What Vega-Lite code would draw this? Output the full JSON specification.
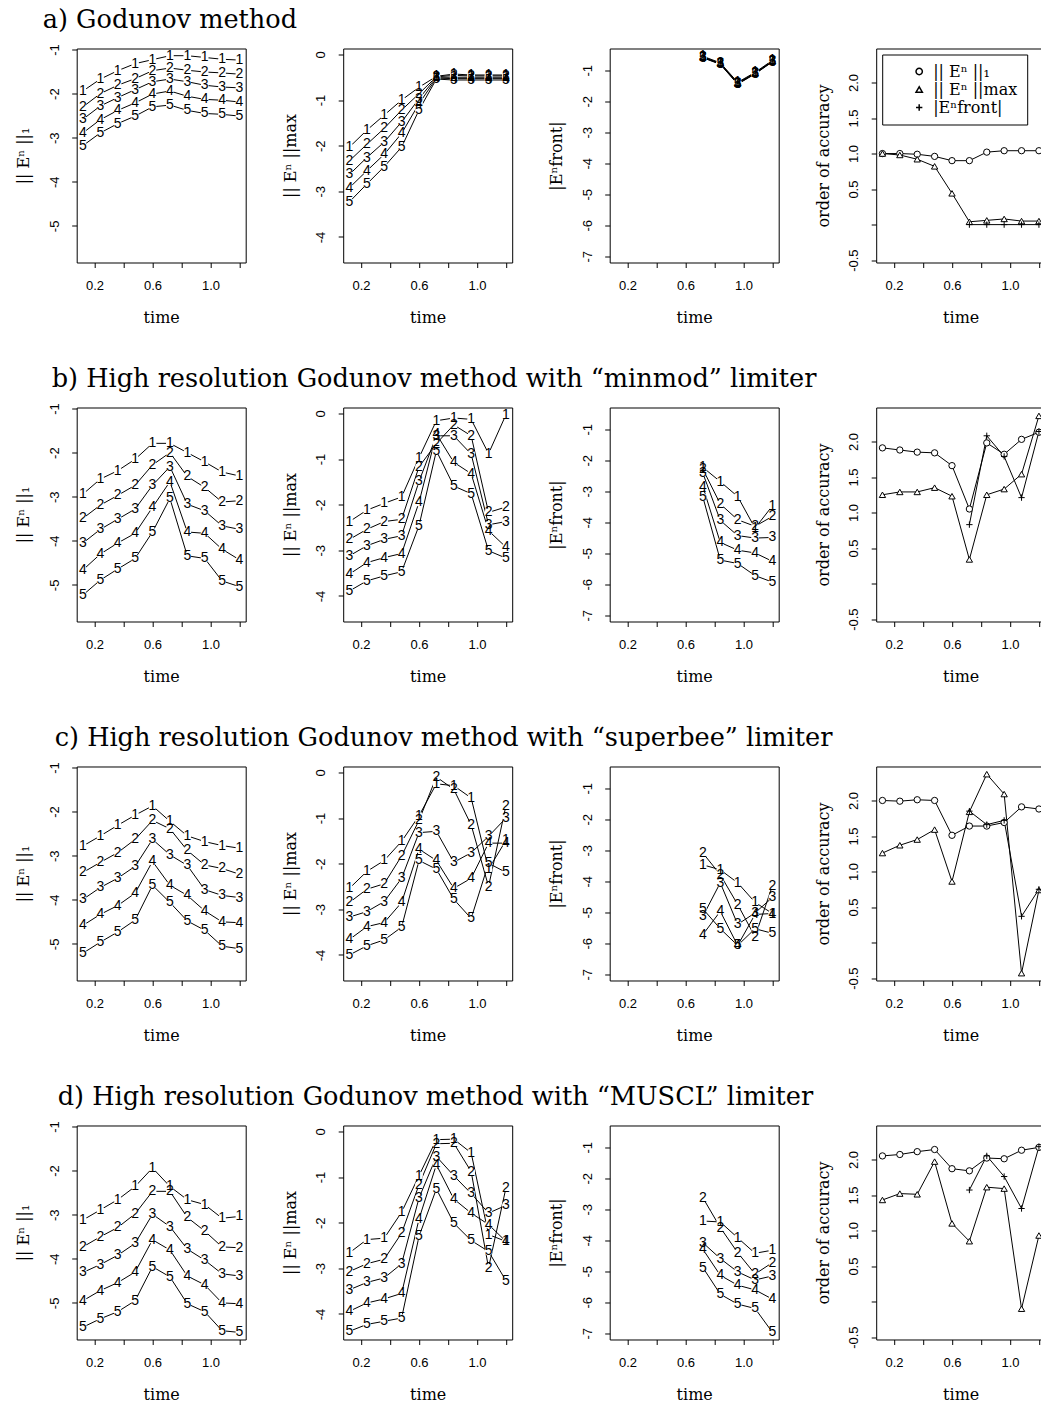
{
"$schema":"https://vega.github.io/schema/vega-lite/v6.json",
"background":"white",
"autosize":{"type":"pad"},
"padding":{"left":14.7,"top":6.5,"right":0,"bottom":0},
"bounds":"flush",
"spacing":359,
"data":{"name":"src","values":[
{"r":"a","c":1,"s":"1","t":[0.12,0.24,0.36,0.48,0.6,0.72,0.84,0.96,1.08,1.2],"v":[-1.94,-1.67,-1.48,-1.32,-1.23,-1.14,-1.14,-1.18,-1.22,-1.24]},
{"r":"a","c":1,"s":"2","t":[0.12,0.24,0.36,0.48,0.6,0.72,0.84,0.96,1.08,1.2],"v":[-2.30,-2.00,-1.81,-1.66,-1.48,-1.42,-1.47,-1.51,-1.53,-1.56]},
{"r":"a","c":1,"s":"3","t":[0.12,0.24,0.36,0.48,0.6,0.72,0.84,0.96,1.08,1.2],"v":[-2.58,-2.28,-2.09,-1.91,-1.73,-1.67,-1.73,-1.81,-1.85,-1.87]},
{"r":"a","c":1,"s":"4","t":[0.12,0.24,0.36,0.48,0.6,0.72,0.84,0.96,1.08,1.2],"v":[-2.89,-2.59,-2.38,-2.21,-2.01,-1.94,-2.06,-2.13,-2.15,-2.19]},
{"r":"a","c":1,"s":"5","t":[0.12,0.24,0.36,0.48,0.6,0.72,0.84,0.96,1.08,1.2],"v":[-3.18,-2.89,-2.68,-2.51,-2.30,-2.26,-2.38,-2.45,-2.47,-2.51]},
{"r":"a","c":2,"s":"1","t":[0.12,0.24,0.36,0.48,0.6,0.72,0.84,0.96,1.08,1.2],"v":[-2.03,-1.66,-1.33,-1.00,-0.72,-0.48,-0.43,-0.45,-0.45,-0.45]},
{"r":"a","c":2,"s":"2","t":[0.12,0.24,0.36,0.48,0.6,0.72,0.84,0.96,1.08,1.2],"v":[-2.33,-1.97,-1.62,-1.22,-0.86,-0.49,-0.46,-0.47,-0.47,-0.47]},
{"r":"a","c":2,"s":"3","t":[0.12,0.24,0.36,0.48,0.6,0.72,0.84,0.96,1.08,1.2],"v":[-2.63,-2.26,-1.92,-1.48,-0.97,-0.50,-0.50,-0.50,-0.50,-0.50]},
{"r":"a","c":2,"s":"4","t":[0.12,0.24,0.36,0.48,0.6,0.72,0.84,0.96,1.08,1.2],"v":[-2.92,-2.55,-2.19,-1.73,-1.08,-0.52,-0.53,-0.53,-0.53,-0.53]},
{"r":"a","c":2,"s":"5","t":[0.12,0.24,0.36,0.48,0.6,0.72,0.84,0.96,1.08,1.2],"v":[-3.23,-2.84,-2.46,-2.03,-1.22,-0.54,-0.56,-0.56,-0.56,-0.56]},
{"r":"a","c":3,"s":"1","t":[0.72,0.84,0.96,1.08,1.2],"v":[-0.55,-0.76,-1.39,-1.07,-0.68]},
{"r":"a","c":3,"s":"2","t":[0.72,0.84,0.96,1.08,1.2],"v":[-0.57,-0.78,-1.41,-1.09,-0.70]},
{"r":"a","c":3,"s":"3","t":[0.72,0.84,0.96,1.08,1.2],"v":[-0.58,-0.79,-1.43,-1.10,-0.71]},
{"r":"a","c":3,"s":"4","t":[0.72,0.84,0.96,1.08,1.2],"v":[-0.59,-0.80,-1.44,-1.11,-0.72]},
{"r":"a","c":3,"s":"5","t":[0.72,0.84,0.96,1.08,1.2],"v":[-0.60,-0.81,-1.45,-1.12,-0.73]},
{"r":"a","c":4,"s":"|| Eⁿ ||₁","t":[0.12,0.24,0.36,0.48,0.6,0.72,0.84,0.96,1.08,1.2],"v":[1.00,1.00,0.99,0.96,0.90,0.90,1.02,1.04,1.04,1.04]},
{"r":"a","c":4,"s":"|| Eⁿ ||max","t":[0.12,0.24,0.36,0.48,0.6,0.72,0.84,0.96,1.08,1.2],"v":[1.00,0.98,0.92,0.82,0.44,0.04,0.06,0.08,0.05,0.05]},
{"r":"a","c":4,"s":"|Eⁿfront|","t":[0.72,0.84,0.96,1.08,1.2],"v":[0.0,0.0,0.0,0.0,0.0]},
{"r":"b","c":1,"s":"1","t":[0.12,0.24,0.36,0.48,0.6,0.72,0.84,0.96,1.08,1.2],"v":[-2.94,-2.60,-2.41,-2.15,-1.79,-1.79,-2.00,-2.21,-2.44,-2.53]},
{"r":"b","c":1,"s":"2","t":[0.12,0.24,0.36,0.48,0.6,0.72,0.84,0.96,1.08,1.2],"v":[-3.49,-3.19,-2.97,-2.74,-2.28,-2.00,-2.54,-2.79,-3.12,-3.09]},
{"r":"b","c":1,"s":"3","t":[0.12,0.24,0.36,0.48,0.6,0.72,0.84,0.96,1.08,1.2],"v":[-4.05,-3.74,-3.51,-3.28,-2.74,-2.32,-3.17,-3.32,-3.66,-3.74]},
{"r":"b","c":1,"s":"4","t":[0.12,0.24,0.36,0.48,0.6,0.72,0.84,0.96,1.08,1.2],"v":[-4.66,-4.30,-4.05,-3.83,-3.24,-2.66,-3.80,-3.83,-4.19,-4.43]},
{"r":"b","c":1,"s":"5","t":[0.12,0.24,0.36,0.48,0.6,0.72,0.84,0.96,1.08,1.2],"v":[-5.23,-4.89,-4.64,-4.40,-3.80,-3.04,-4.34,-4.40,-4.91,-5.04]},
{"r":"b","c":2,"s":"1","t":[0.12,0.24,0.36,0.48,0.6,0.72,0.84,0.96,1.08,1.2],"v":[-2.37,-2.12,-1.97,-1.83,-0.97,-0.16,-0.10,-0.13,-0.88,-0.03]},
{"r":"b","c":2,"s":"2","t":[0.12,0.24,0.36,0.48,0.6,0.72,0.84,0.96,1.08,1.2],"v":[-2.76,-2.54,-2.37,-2.32,-1.17,-0.66,-0.25,-0.49,-2.17,-2.05]},
{"r":"b","c":2,"s":"3","t":[0.12,0.24,0.36,0.48,0.6,0.72,0.84,0.96,1.08,1.2],"v":[-3.12,-2.90,-2.76,-2.68,-1.49,-0.49,-0.49,-0.89,-2.44,-2.37]},
{"r":"b","c":2,"s":"4","t":[0.12,0.24,0.36,0.48,0.6,0.72,0.84,0.96,1.08,1.2],"v":[-3.52,-3.27,-3.16,-3.07,-1.95,-0.45,-1.07,-1.32,-2.57,-2.93]},
{"r":"b","c":2,"s":"5","t":[0.12,0.24,0.36,0.48,0.6,0.72,0.84,0.96,1.08,1.2],"v":[-3.89,-3.67,-3.56,-3.47,-2.46,-0.82,-1.59,-1.76,-3.01,-3.17]},
{"r":"b","c":3,"s":"1","t":[0.72,0.84,0.96,1.08,1.2],"v":[-2.23,-2.69,-3.17,-4.19,-3.47]},
{"r":"b","c":3,"s":"2","t":[0.72,0.84,0.96,1.08,1.2],"v":[-2.29,-3.41,-3.92,-4.13,-3.81]},
{"r":"b","c":3,"s":"3","t":[0.72,0.84,0.96,1.08,1.2],"v":[-2.42,-3.94,-4.43,-4.51,-4.49]},
{"r":"b","c":3,"s":"4","t":[0.72,0.84,0.96,1.08,1.2],"v":[-2.85,-4.65,-4.90,-4.99,-5.26]},
{"r":"b","c":3,"s":"5","t":[0.72,0.84,0.96,1.08,1.2],"v":[-3.19,-5.22,-5.33,-5.72,-5.93]},
{"r":"b","c":4,"s":"|| Eⁿ ||₁","t":[0.12,0.24,0.36,0.48,0.6,0.72,0.84,0.96,1.08,1.2],"v":[1.91,1.88,1.85,1.84,1.66,1.05,1.98,1.82,2.03,2.13]},
{"r":"b","c":4,"s":"|| Eⁿ ||max","t":[0.12,0.24,0.36,0.48,0.6,0.72,0.84,0.96,1.08,1.2],"v":[1.25,1.29,1.29,1.35,1.23,0.34,1.25,1.33,1.54,2.36]},
{"r":"b","c":4,"s":"|Eⁿfront|","t":[0.72,0.84,0.96,1.08,1.2],"v":[0.83,2.08,1.79,1.21,2.14]},
{"r":"c","c":1,"s":"1","t":[0.12,0.24,0.36,0.48,0.6,0.72,0.84,0.96,1.08,1.2],"v":[-2.78,-2.55,-2.31,-2.08,-1.87,-2.22,-2.55,-2.68,-2.77,-2.83]},
{"r":"c","c":1,"s":"2","t":[0.12,0.24,0.36,0.48,0.6,0.72,0.84,0.96,1.08,1.2],"v":[-3.38,-3.15,-2.93,-2.63,-2.20,-2.39,-2.88,-3.21,-3.29,-3.42]},
{"r":"c","c":1,"s":"3","t":[0.12,0.24,0.36,0.48,0.6,0.72,0.84,0.96,1.08,1.2],"v":[-3.99,-3.72,-3.51,-3.24,-2.63,-2.98,-3.22,-3.77,-3.90,-3.95]},
{"r":"c","c":1,"s":"4","t":[0.12,0.24,0.36,0.48,0.6,0.72,0.84,0.96,1.08,1.2],"v":[-4.58,-4.33,-4.13,-3.85,-3.13,-3.67,-3.90,-4.25,-4.50,-4.52]},
{"r":"c","c":1,"s":"5","t":[0.12,0.24,0.36,0.48,0.6,0.72,0.84,0.96,1.08,1.2],"v":[-5.21,-4.96,-4.73,-4.46,-3.67,-4.06,-4.48,-4.69,-5.05,-5.11]},
{"r":"c","c":2,"s":"1","t":[0.12,0.24,0.36,0.48,0.6,0.72,0.84,0.96,1.08,1.2],"v":[-2.54,-2.17,-1.93,-1.51,-0.95,-0.25,-0.29,-0.56,-2.12,-1.49]},
{"r":"c","c":2,"s":"2","t":[0.12,0.24,0.36,0.48,0.6,0.72,0.84,0.96,1.08,1.2],"v":[-2.85,-2.56,-2.44,-1.83,-1.05,-0.10,-0.37,-1.15,-2.50,-0.73]},
{"r":"c","c":2,"s":"3","t":[0.12,0.24,0.36,0.48,0.6,0.72,0.84,0.96,1.08,1.2],"v":[-3.17,-3.05,-2.83,-2.32,-1.32,-1.29,-1.97,-1.76,-1.40,-1.00]},
{"r":"c","c":2,"s":"4","t":[0.12,0.24,0.36,0.48,0.6,0.72,0.84,0.96,1.08,1.2],"v":[-3.66,-3.38,-3.29,-2.85,-1.68,-1.93,-2.54,-2.32,-1.55,-1.55]},
{"r":"c","c":2,"s":"5","t":[0.12,0.24,0.36,0.48,0.6,0.72,0.84,0.96,1.08,1.2],"v":[-4.00,-3.80,-3.67,-3.39,-1.93,-2.12,-2.78,-3.20,-1.99,-2.19]},
{"r":"c","c":3,"s":"1","t":[0.72,0.84,0.96,1.08,1.2],"v":[-3.47,-3.63,-4.05,-4.68,-5.04]},
{"r":"c","c":3,"s":"2","t":[0.72,0.84,0.96,1.08,1.2],"v":[-3.09,-3.79,-4.75,-5.79,-4.14]},
{"r":"c","c":3,"s":"3","t":[0.72,0.84,0.96,1.08,1.2],"v":[-5.13,-4.05,-5.39,-5.02,-4.52]},
{"r":"c","c":3,"s":"4","t":[0.72,0.84,0.96,1.08,1.2],"v":[-5.72,-4.97,-6.07,-5.07,-5.04]},
{"r":"c","c":3,"s":"5","t":[0.72,0.84,0.96,1.08,1.2],"v":[-4.89,-5.53,-6.07,-5.53,-5.68]},
{"r":"c","c":4,"s":"|| Eⁿ ||₁","t":[0.12,0.24,0.36,0.48,0.6,0.72,0.84,0.96,1.08,1.2],"v":[2.00,1.99,2.01,2.00,1.51,1.64,1.64,1.69,1.91,1.88]},
{"r":"c","c":4,"s":"|| Eⁿ ||max","t":[0.12,0.24,0.36,0.48,0.6,0.72,0.84,0.96,1.08,1.2],"v":[1.26,1.37,1.45,1.59,0.86,1.84,2.37,2.09,-0.43,0.74]},
{"r":"c","c":4,"s":"|Eⁿfront|","t":[0.72,0.84,0.96,1.08,1.2],"v":[1.85,1.66,1.72,0.37,0.75]},
{"r":"d","c":1,"s":"1","t":[0.12,0.24,0.36,0.48,0.6,0.72,0.84,0.96,1.08,1.2],"v":[-3.12,-2.89,-2.66,-2.36,-1.94,-2.36,-2.66,-2.77,-3.08,-3.04]},
{"r":"d","c":1,"s":"2","t":[0.12,0.24,0.36,0.48,0.6,0.72,0.84,0.96,1.08,1.2],"v":[-3.73,-3.50,-3.29,-2.98,-2.47,-2.47,-3.06,-3.37,-3.73,-3.75]},
{"r":"d","c":1,"s":"3","t":[0.12,0.24,0.36,0.48,0.6,0.72,0.84,0.96,1.08,1.2],"v":[-4.31,-4.13,-3.92,-3.65,-2.99,-3.27,-3.78,-4.03,-4.34,-4.39]},
{"r":"d","c":1,"s":"4","t":[0.12,0.24,0.36,0.48,0.6,0.72,0.84,0.96,1.08,1.2],"v":[-4.95,-4.72,-4.54,-4.30,-3.57,-3.80,-4.39,-4.59,-5.00,-5.02]},
{"r":"d","c":1,"s":"5","t":[0.12,0.24,0.36,0.48,0.6,0.72,0.84,0.96,1.08,1.2],"v":[-5.55,-5.36,-5.20,-4.95,-4.18,-4.41,-5.02,-5.20,-5.63,-5.67]},
{"r":"d","c":2,"s":"1","t":[0.12,0.24,0.36,0.48,0.6,0.72,0.84,0.96,1.08,1.2],"v":[-2.66,-2.37,-2.34,-1.77,-0.97,-0.18,-0.17,-0.47,-2.26,-2.41]},
{"r":"d","c":2,"s":"2","t":[0.12,0.24,0.36,0.48,0.6,0.72,0.84,0.96,1.08,1.2],"v":[-3.07,-2.90,-2.80,-2.23,-1.17,-0.27,-0.26,-0.88,-2.99,-1.24]},
{"r":"d","c":2,"s":"3","t":[0.12,0.24,0.36,0.48,0.6,0.72,0.84,0.96,1.08,1.2],"v":[-3.47,-3.31,-3.21,-2.90,-1.46,-0.55,-0.97,-1.36,-1.79,-1.62]},
{"r":"d","c":2,"s":"4","t":[0.12,0.24,0.36,0.48,0.6,0.72,0.84,0.96,1.08,1.2],"v":[-3.94,-3.76,-3.67,-3.55,-1.92,-0.73,-1.48,-1.79,-2.04,-2.41]},
{"r":"d","c":2,"s":"5","t":[0.12,0.24,0.36,0.48,0.6,0.72,0.84,0.96,1.08,1.2],"v":[-4.38,-4.23,-4.16,-4.09,-2.30,-1.26,-2.01,-2.39,-2.63,-3.27]},
{"r":"d","c":3,"s":"1","t":[0.72,0.84,0.96,1.08,1.2],"v":[-3.38,-3.41,-3.92,-4.42,-4.32]},
{"r":"d","c":3,"s":"2","t":[0.72,0.84,0.96,1.08,1.2],"v":[-2.63,-3.59,-4.40,-5.09,-4.72]},
{"r":"d","c":3,"s":"3","t":[0.72,0.84,0.96,1.08,1.2],"v":[-4.08,-4.59,-5.02,-5.28,-5.15]},
{"r":"d","c":3,"s":"4","t":[0.72,0.84,0.96,1.08,1.2],"v":[-4.29,-5.13,-5.45,-5.60,-5.90]},
{"r":"d","c":3,"s":"5","t":[0.72,0.84,0.96,1.08,1.2],"v":[-4.88,-5.74,-6.06,-6.20,-6.97]},
{"r":"d","c":4,"s":"|| Eⁿ ||₁","t":[0.12,0.24,0.36,0.48,0.6,0.72,0.84,0.96,1.08,1.2],"v":[2.05,2.07,2.11,2.14,1.87,1.84,2.02,2.01,2.13,2.17]},
{"r":"d","c":4,"s":"|| Eⁿ ||max","t":[0.12,0.24,0.36,0.48,0.6,0.72,0.84,0.96,1.08,1.2],"v":[1.43,1.52,1.51,1.97,1.10,0.85,1.61,1.59,-0.10,0.93]},
{"r":"d","c":4,"s":"|Eⁿfront|","t":[0.72,0.84,0.96,1.08,1.2],"v":[1.57,2.05,1.76,1.31,2.18]}
]},
"transform":[{"flatten":["t","v"]}],
"resolve":{"scale":{"shape":"independent"},"legend":{"shape":"independent"}},
"config":{
 "view":{"stroke":"black","strokeWidth":1,"fill":"white"},
 "axis":{"domain":false,"grid":false,"ticks":true,"tickColor":"black","tickSize":5,"tickWidth":1,"labelFont":"Liberation Sans","labelFontSize":13,"labelColor":"black","labelOverlap":false,"labelFlush":false,"labelBound":false,"titleFont":"DejaVu Serif","titleFontSize":16,"titleFontWeight":"normal","titleColor":"black"},
 "axisX":{"labelPadding":12,"labelBaseline":"top","labelAlign":"center","titleY":60,"titleBaseline":"alphabetic"},
 "axisY":{"labelAngle":-90,"labelAlign":"center","labelBaseline":"alphabetic","labelPadding":13.5,"titleX":-53,"titleBaseline":"middle","titleAngle":-90,"titleAlign":"center"},
 "title":{"anchor":"start","frame":"group","baseline":"alphabetic","offset":10.5,"font":"DejaVu Serif","fontSize":25.6,"fontWeight":"normal","color":"black"}
},
"vconcat":[
{"bounds":"flush","spacing":97.5,"resolve":{"scale":{"shape":"independent"},"legend":{"shape":"independent"}},"hconcat":[
 {"width":169,"height":214,"title":{"text":"a) Godunov method","dx":-34},
  "transform":[{"filter":"datum.r=='a'&&datum.c==1"}],
  "encoding":{"x":{"field":"t","type":"quantitative","scale":{"domain":[0.0768,1.2432],"nice":false,"zero":false},"axis":{"values":[0.2,0.4,0.6,0.8,1.0,1.2],"labelExpr":"(datum.value==0.2||datum.value==0.6||datum.value==1)?format(datum.value,'.1f'):''","title":"time"}},
   "y":{"field":"v","type":"quantitative","scale":{"domain":[-5.83,-0.977],"nice":false,"zero":false},"axis":{"values":[-5,-4,-3,-2,-1],"labelExpr":"toString(datum.value)","title":"|| Eⁿ ||₁"}}},
  "layer":[{"mark":{"type":"line","color":"black","strokeWidth":1},"encoding":{"detail":{"field":"s"}}},
   {"mark":{"type":"point","filled":true,"color":"white","opacity":1,"size":60}},
   {"mark":{"type":"text","font":"Liberation Sans","fontSize":14,"color":"black"},"encoding":{"text":{"field":"s"}}}]},
 {"width":169,"height":214,
  "transform":[{"filter":"datum.r=='a'&&datum.c==2"}],
  "encoding":{"x":{"field":"t","type":"quantitative","scale":{"domain":[0.0768,1.2432],"nice":false,"zero":false},"axis":{"values":[0.2,0.4,0.6,0.8,1.0,1.2],"labelExpr":"(datum.value==0.2||datum.value==0.6||datum.value==1)?format(datum.value,'.1f'):''","title":"time"}},
   "y":{"field":"v","type":"quantitative","scale":{"domain":[-4.56,0.13],"nice":false,"zero":false},"axis":{"values":[-4,-3,-2,-1,0],"labelExpr":"toString(datum.value)","title":"|| Eⁿ ||max"}}},
  "layer":[{"mark":{"type":"line","color":"black","strokeWidth":1},"encoding":{"detail":{"field":"s"}}},
   {"mark":{"type":"point","filled":true,"color":"white","opacity":1,"size":60}},
   {"mark":{"type":"text","font":"Liberation Sans","fontSize":14,"color":"black"},"encoding":{"text":{"field":"s"}}}]},
 {"width":169,"height":214,
  "transform":[{"filter":"datum.r=='a'&&datum.c==3"}],
  "encoding":{"x":{"field":"t","type":"quantitative","scale":{"domain":[0.0768,1.2432],"nice":false,"zero":false},"axis":{"values":[0.2,0.4,0.6,0.8,1.0,1.2],"labelExpr":"(datum.value==0.2||datum.value==0.6||datum.value==1)?format(datum.value,'.1f'):''","title":"time"}},
   "y":{"field":"v","type":"quantitative","scale":{"domain":[-7.2,-0.3],"nice":false,"zero":false},"axis":{"values":[-7,-6,-5,-4,-3,-2,-1],"labelExpr":"toString(datum.value)","title":"|Eⁿfront|"}}},
  "layer":[{"mark":{"type":"line","color":"black","strokeWidth":1},"encoding":{"detail":{"field":"s"}}},
   {"mark":{"type":"point","filled":true,"color":"white","opacity":1,"size":60}},
   {"mark":{"type":"text","font":"Liberation Sans","fontSize":14,"color":"black"},"encoding":{"text":{"field":"s"}}}]},
 {"width":169,"height":214,
  "transform":[{"filter":"datum.r=='a'&&datum.c==4"}],
  "encoding":{"x":{"field":"t","type":"quantitative","scale":{"domain":[0.0768,1.2432],"nice":false,"zero":false},"axis":{"values":[0.2,0.4,0.6,0.8,1.0,1.2],"labelExpr":"(datum.value==0.2||datum.value==0.6||datum.value==1)?format(datum.value,'.1f'):''","title":"time"}},
   "y":{"field":"v","type":"quantitative","scale":{"domain":[-0.533,2.478],"nice":false,"zero":false},"axis":{"values":[-0.5,0,0.5,1,1.5,2],"labelExpr":"datum.value==0?'':(datum.value<0?'-':'')+format(abs(datum.value),'.1f')","title":"order of accuracy"}}},
  "layer":[{"mark":{"type":"line","color":"black","strokeWidth":1},"encoding":{"detail":{"field":"s"}}},
   {"mark":{"type":"point","filled":true,"fill":"white","stroke":"black","strokeWidth":1,"opacity":1,"size":40},
    "encoding":{"shape":{"field":"s","type":"nominal","scale":{"domain":["|| Eⁿ ||₁","|| Eⁿ ||max","|Eⁿfront|"],"range":["circle","triangle-up","M-1,0H1M0,-1V1"]},
     "legend":{"orient":"top-left","offset":6,"title":null,"padding":9,"strokeColor":"black","fillColor":"white","cornerRadius":0,"labelFont":"DejaVu Serif","labelFontSize":16,"labelColor":"black","symbolOffset":20,"symbolSize":40,"labelOffset":6,"rowPadding":2,
      "encode":{"symbols":{"update":{"stroke":{"value":"black"},"fill":{"value":"white"},"strokeWidth":{"value":1},"opacity":{"value":1}}}}}}}}]}
]},
{"bounds":"flush","spacing":97.5,"resolve":{"scale":{"shape":"independent"},"legend":{"shape":"independent"}},"hconcat":[
 {"width":169,"height":214,"title":{"text":"b) High resolution Godunov method with “minmod” limiter","dx":-25},
  "transform":[{"filter":"datum.r=='b'&&datum.c==1"}],
  "encoding":{"x":{"field":"t","type":"quantitative","scale":{"domain":[0.0768,1.2432],"nice":false,"zero":false},"axis":{"values":[0.2,0.4,0.6,0.8,1.0,1.2],"labelExpr":"(datum.value==0.2||datum.value==0.6||datum.value==1)?format(datum.value,'.1f'):''","title":"time"}},
   "y":{"field":"v","type":"quantitative","scale":{"domain":[-5.83,-0.977],"nice":false,"zero":false},"axis":{"values":[-5,-4,-3,-2,-1],"labelExpr":"toString(datum.value)","title":"|| Eⁿ ||₁"}}},
  "layer":[{"mark":{"type":"line","color":"black","strokeWidth":1},"encoding":{"detail":{"field":"s"}}},
   {"mark":{"type":"point","filled":true,"color":"white","opacity":1,"size":60}},
   {"mark":{"type":"text","font":"Liberation Sans","fontSize":14,"color":"black"},"encoding":{"text":{"field":"s"}}}]},
 {"width":169,"height":214,
  "transform":[{"filter":"datum.r=='b'&&datum.c==2"}],
  "encoding":{"x":{"field":"t","type":"quantitative","scale":{"domain":[0.0768,1.2432],"nice":false,"zero":false},"axis":{"values":[0.2,0.4,0.6,0.8,1.0,1.2],"labelExpr":"(datum.value==0.2||datum.value==0.6||datum.value==1)?format(datum.value,'.1f'):''","title":"time"}},
   "y":{"field":"v","type":"quantitative","scale":{"domain":[-4.56,0.13],"nice":false,"zero":false},"axis":{"values":[-4,-3,-2,-1,0],"labelExpr":"toString(datum.value)","title":"|| Eⁿ ||max"}}},
  "layer":[{"mark":{"type":"line","color":"black","strokeWidth":1},"encoding":{"detail":{"field":"s"}}},
   {"mark":{"type":"point","filled":true,"color":"white","opacity":1,"size":60}},
   {"mark":{"type":"text","font":"Liberation Sans","fontSize":14,"color":"black"},"encoding":{"text":{"field":"s"}}}]},
 {"width":169,"height":214,
  "transform":[{"filter":"datum.r=='b'&&datum.c==3"}],
  "encoding":{"x":{"field":"t","type":"quantitative","scale":{"domain":[0.0768,1.2432],"nice":false,"zero":false},"axis":{"values":[0.2,0.4,0.6,0.8,1.0,1.2],"labelExpr":"(datum.value==0.2||datum.value==0.6||datum.value==1)?format(datum.value,'.1f'):''","title":"time"}},
   "y":{"field":"v","type":"quantitative","scale":{"domain":[-7.2,-0.3],"nice":false,"zero":false},"axis":{"values":[-7,-6,-5,-4,-3,-2,-1],"labelExpr":"toString(datum.value)","title":"|Eⁿfront|"}}},
  "layer":[{"mark":{"type":"line","color":"black","strokeWidth":1},"encoding":{"detail":{"field":"s"}}},
   {"mark":{"type":"point","filled":true,"color":"white","opacity":1,"size":60}},
   {"mark":{"type":"text","font":"Liberation Sans","fontSize":14,"color":"black"},"encoding":{"text":{"field":"s"}}}]},
 {"width":169,"height":214,
  "transform":[{"filter":"datum.r=='b'&&datum.c==4"}],
  "encoding":{"x":{"field":"t","type":"quantitative","scale":{"domain":[0.0768,1.2432],"nice":false,"zero":false},"axis":{"values":[0.2,0.4,0.6,0.8,1.0,1.2],"labelExpr":"(datum.value==0.2||datum.value==0.6||datum.value==1)?format(datum.value,'.1f'):''","title":"time"}},
   "y":{"field":"v","type":"quantitative","scale":{"domain":[-0.533,2.478],"nice":false,"zero":false},"axis":{"values":[-0.5,0,0.5,1,1.5,2],"labelExpr":"datum.value==0?'':(datum.value<0?'-':'')+format(abs(datum.value),'.1f')","title":"order of accuracy"}}},
  "layer":[{"mark":{"type":"line","color":"black","strokeWidth":1},"encoding":{"detail":{"field":"s"}}},
   {"mark":{"type":"point","filled":true,"fill":"white","stroke":"black","strokeWidth":1,"opacity":1,"size":40},
    "encoding":{"shape":{"field":"s","type":"nominal","scale":{"domain":["|| Eⁿ ||₁","|| Eⁿ ||max","|Eⁿfront|"],"range":["circle","triangle-up","M-1,0H1M0,-1V1"]},"legend":null}}}]}
]},
{"bounds":"flush","spacing":97.5,"resolve":{"scale":{"shape":"independent"},"legend":{"shape":"independent"}},"hconcat":[
 {"width":169,"height":214,"title":{"text":"c) High resolution Godunov method with “superbee” limiter","dx":-22},
  "transform":[{"filter":"datum.r=='c'&&datum.c==1"}],
  "encoding":{"x":{"field":"t","type":"quantitative","scale":{"domain":[0.0768,1.2432],"nice":false,"zero":false},"axis":{"values":[0.2,0.4,0.6,0.8,1.0,1.2],"labelExpr":"(datum.value==0.2||datum.value==0.6||datum.value==1)?format(datum.value,'.1f'):''","title":"time"}},
   "y":{"field":"v","type":"quantitative","scale":{"domain":[-5.83,-0.977],"nice":false,"zero":false},"axis":{"values":[-5,-4,-3,-2,-1],"labelExpr":"toString(datum.value)","title":"|| Eⁿ ||₁"}}},
  "layer":[{"mark":{"type":"line","color":"black","strokeWidth":1},"encoding":{"detail":{"field":"s"}}},
   {"mark":{"type":"point","filled":true,"color":"white","opacity":1,"size":60}},
   {"mark":{"type":"text","font":"Liberation Sans","fontSize":14,"color":"black"},"encoding":{"text":{"field":"s"}}}]},
 {"width":169,"height":214,
  "transform":[{"filter":"datum.r=='c'&&datum.c==2"}],
  "encoding":{"x":{"field":"t","type":"quantitative","scale":{"domain":[0.0768,1.2432],"nice":false,"zero":false},"axis":{"values":[0.2,0.4,0.6,0.8,1.0,1.2],"labelExpr":"(datum.value==0.2||datum.value==0.6||datum.value==1)?format(datum.value,'.1f'):''","title":"time"}},
   "y":{"field":"v","type":"quantitative","scale":{"domain":[-4.56,0.13],"nice":false,"zero":false},"axis":{"values":[-4,-3,-2,-1,0],"labelExpr":"toString(datum.value)","title":"|| Eⁿ ||max"}}},
  "layer":[{"mark":{"type":"line","color":"black","strokeWidth":1},"encoding":{"detail":{"field":"s"}}},
   {"mark":{"type":"point","filled":true,"color":"white","opacity":1,"size":60}},
   {"mark":{"type":"text","font":"Liberation Sans","fontSize":14,"color":"black"},"encoding":{"text":{"field":"s"}}}]},
 {"width":169,"height":214,
  "transform":[{"filter":"datum.r=='c'&&datum.c==3"}],
  "encoding":{"x":{"field":"t","type":"quantitative","scale":{"domain":[0.0768,1.2432],"nice":false,"zero":false},"axis":{"values":[0.2,0.4,0.6,0.8,1.0,1.2],"labelExpr":"(datum.value==0.2||datum.value==0.6||datum.value==1)?format(datum.value,'.1f'):''","title":"time"}},
   "y":{"field":"v","type":"quantitative","scale":{"domain":[-7.2,-0.3],"nice":false,"zero":false},"axis":{"values":[-7,-6,-5,-4,-3,-2,-1],"labelExpr":"toString(datum.value)","title":"|Eⁿfront|"}}},
  "layer":[{"mark":{"type":"line","color":"black","strokeWidth":1},"encoding":{"detail":{"field":"s"}}},
   {"mark":{"type":"point","filled":true,"color":"white","opacity":1,"size":60}},
   {"mark":{"type":"text","font":"Liberation Sans","fontSize":14,"color":"black"},"encoding":{"text":{"field":"s"}}}]},
 {"width":169,"height":214,
  "transform":[{"filter":"datum.r=='c'&&datum.c==4"}],
  "encoding":{"x":{"field":"t","type":"quantitative","scale":{"domain":[0.0768,1.2432],"nice":false,"zero":false},"axis":{"values":[0.2,0.4,0.6,0.8,1.0,1.2],"labelExpr":"(datum.value==0.2||datum.value==0.6||datum.value==1)?format(datum.value,'.1f'):''","title":"time"}},
   "y":{"field":"v","type":"quantitative","scale":{"domain":[-0.533,2.478],"nice":false,"zero":false},"axis":{"values":[-0.5,0,0.5,1,1.5,2],"labelExpr":"datum.value==0?'':(datum.value<0?'-':'')+format(abs(datum.value),'.1f')","title":"order of accuracy"}}},
  "layer":[{"mark":{"type":"line","color":"black","strokeWidth":1},"encoding":{"detail":{"field":"s"}}},
   {"mark":{"type":"point","filled":true,"fill":"white","stroke":"black","strokeWidth":1,"opacity":1,"size":40},
    "encoding":{"shape":{"field":"s","type":"nominal","scale":{"domain":["|| Eⁿ ||₁","|| Eⁿ ||max","|Eⁿfront|"],"range":["circle","triangle-up","M-1,0H1M0,-1V1"]},"legend":null}}}]}
]},
{"bounds":"flush","spacing":97.5,"resolve":{"scale":{"shape":"independent"},"legend":{"shape":"independent"}},"hconcat":[
 {"width":169,"height":214,"title":{"text":"d) High resolution Godunov method with “MUSCL” limiter","dx":-19},
  "transform":[{"filter":"datum.r=='d'&&datum.c==1"}],
  "encoding":{"x":{"field":"t","type":"quantitative","scale":{"domain":[0.0768,1.2432],"nice":false,"zero":false},"axis":{"values":[0.2,0.4,0.6,0.8,1.0,1.2],"labelExpr":"(datum.value==0.2||datum.value==0.6||datum.value==1)?format(datum.value,'.1f'):''","title":"time"}},
   "y":{"field":"v","type":"quantitative","scale":{"domain":[-5.83,-0.977],"nice":false,"zero":false},"axis":{"values":[-5,-4,-3,-2,-1],"labelExpr":"toString(datum.value)","title":"|| Eⁿ ||₁"}}},
  "layer":[{"mark":{"type":"line","color":"black","strokeWidth":1},"encoding":{"detail":{"field":"s"}}},
   {"mark":{"type":"point","filled":true,"color":"white","opacity":1,"size":60}},
   {"mark":{"type":"text","font":"Liberation Sans","fontSize":14,"color":"black"},"encoding":{"text":{"field":"s"}}}]},
 {"width":169,"height":214,
  "transform":[{"filter":"datum.r=='d'&&datum.c==2"}],
  "encoding":{"x":{"field":"t","type":"quantitative","scale":{"domain":[0.0768,1.2432],"nice":false,"zero":false},"axis":{"values":[0.2,0.4,0.6,0.8,1.0,1.2],"labelExpr":"(datum.value==0.2||datum.value==0.6||datum.value==1)?format(datum.value,'.1f'):''","title":"time"}},
   "y":{"field":"v","type":"quantitative","scale":{"domain":[-4.56,0.13],"nice":false,"zero":false},"axis":{"values":[-4,-3,-2,-1,0],"labelExpr":"toString(datum.value)","title":"|| Eⁿ ||max"}}},
  "layer":[{"mark":{"type":"line","color":"black","strokeWidth":1},"encoding":{"detail":{"field":"s"}}},
   {"mark":{"type":"point","filled":true,"color":"white","opacity":1,"size":60}},
   {"mark":{"type":"text","font":"Liberation Sans","fontSize":14,"color":"black"},"encoding":{"text":{"field":"s"}}}]},
 {"width":169,"height":214,
  "transform":[{"filter":"datum.r=='d'&&datum.c==3"}],
  "encoding":{"x":{"field":"t","type":"quantitative","scale":{"domain":[0.0768,1.2432],"nice":false,"zero":false},"axis":{"values":[0.2,0.4,0.6,0.8,1.0,1.2],"labelExpr":"(datum.value==0.2||datum.value==0.6||datum.value==1)?format(datum.value,'.1f'):''","title":"time"}},
   "y":{"field":"v","type":"quantitative","scale":{"domain":[-7.2,-0.3],"nice":false,"zero":false},"axis":{"values":[-7,-6,-5,-4,-3,-2,-1],"labelExpr":"toString(datum.value)","title":"|Eⁿfront|"}}},
  "layer":[{"mark":{"type":"line","color":"black","strokeWidth":1},"encoding":{"detail":{"field":"s"}}},
   {"mark":{"type":"point","filled":true,"color":"white","opacity":1,"size":60}},
   {"mark":{"type":"text","font":"Liberation Sans","fontSize":14,"color":"black"},"encoding":{"text":{"field":"s"}}}]},
 {"width":169,"height":214,
  "transform":[{"filter":"datum.r=='d'&&datum.c==4"}],
  "encoding":{"x":{"field":"t","type":"quantitative","scale":{"domain":[0.0768,1.2432],"nice":false,"zero":false},"axis":{"values":[0.2,0.4,0.6,0.8,1.0,1.2],"labelExpr":"(datum.value==0.2||datum.value==0.6||datum.value==1)?format(datum.value,'.1f'):''","title":"time"}},
   "y":{"field":"v","type":"quantitative","scale":{"domain":[-0.533,2.478],"nice":false,"zero":false},"axis":{"values":[-0.5,0,0.5,1,1.5,2],"labelExpr":"datum.value==0?'':(datum.value<0?'-':'')+format(abs(datum.value),'.1f')","title":"order of accuracy"}}},
  "layer":[{"mark":{"type":"line","color":"black","strokeWidth":1},"encoding":{"detail":{"field":"s"}}},
   {"mark":{"type":"point","filled":true,"fill":"white","stroke":"black","strokeWidth":1,"opacity":1,"size":40},
    "encoding":{"shape":{"field":"s","type":"nominal","scale":{"domain":["|| Eⁿ ||₁","|| Eⁿ ||max","|Eⁿfront|"],"range":["circle","triangle-up","M-1,0H1M0,-1V1"]},"legend":null}}}]}
]}
]
}
